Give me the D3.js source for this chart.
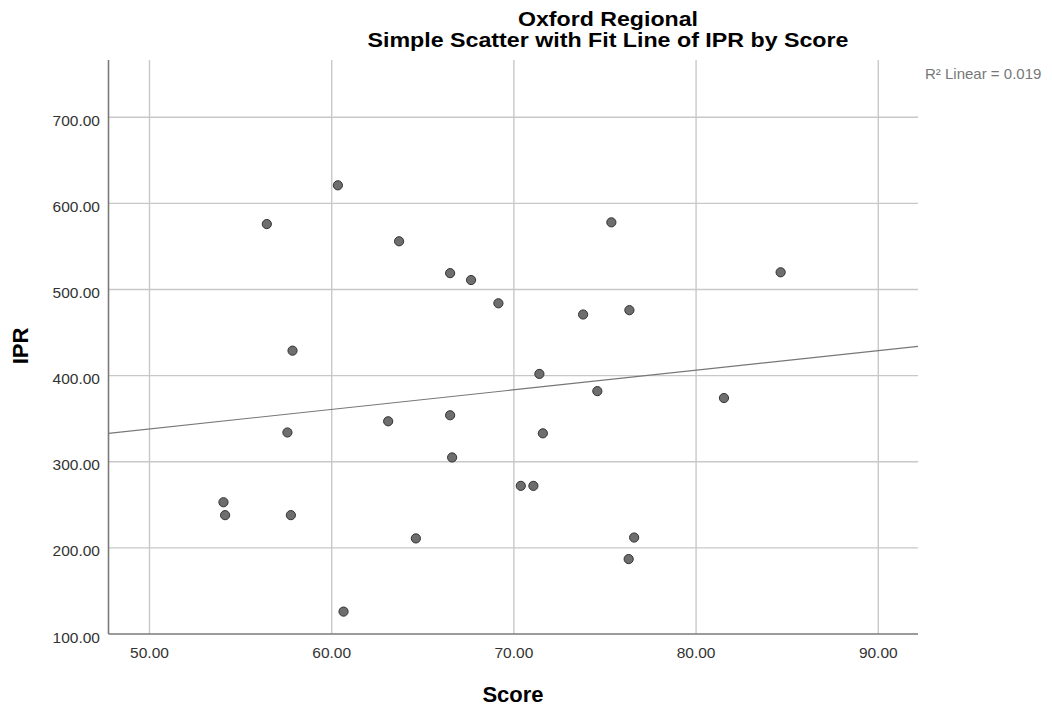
<!DOCTYPE html>
<html>
<head>
<meta charset="utf-8">
<script src="https://cdn.jsdelivr.net/npm/d3@7"></script>
<style>
  html, body { margin: 0; padding: 0; background: #fff; }
  svg { display: block; font-family: "Liberation Sans", Arial, sans-serif; }
</style>
</head>
<body>
<svg id="chart" width="1052" height="710"></svg>
<script>
const titleLines = ["Oxford Regional", "Simple Scatter with Fit Line of IPR by Score"];
const xLabel = "Score";
const yLabel = "IPR";
const fitLabel = "R\u00B2 Linear = 0.019";

const scoreValues = [60.34, 56.44, 63.70, 66.50, 67.65, 69.15, 57.85, 63.10, 66.50, 57.57,
                     66.61, 75.35, 84.64, 73.80, 76.34, 71.40, 74.58, 81.53, 71.59, 70.38,
                     71.07, 54.06, 54.15, 57.76, 64.62, 60.65, 76.60, 76.30];
const iprValues   = [621, 576, 556, 519, 511, 484, 429, 347, 354, 334,
                     305, 578, 520, 471, 476, 402, 382, 374, 333, 272,
                     272, 253, 238, 238, 211, 126, 212, 187];

const xTicks = [50, 60, 70, 80, 90];
const yTicks = [100, 200, 300, 400, 500, 600, 700];
const xDomain = [47.75, 92.18];
const yDomain = [100, 766.5];

const svg = d3.select("#chart");
const L = 108.5, R = 918, T = 60, B = 634;

const x = d3.scaleLinear().domain(xDomain).range([L, R]);
const y = d3.scaleLinear().domain(yDomain).range([B, T]);

// gridlines
svg.append("g").selectAll("line").data(yTicks.filter(d => d > 100)).join("line")
  .attr("x1", L).attr("x2", R).attr("y1", d => y(d)).attr("y2", d => y(d))
  .attr("stroke", "#c8c8c8").attr("stroke-width", 1.4);
svg.append("g").selectAll("line").data(xTicks).join("line")
  .attr("x1", d => x(d)).attr("x2", d => x(d)).attr("y1", T).attr("y2", B)
  .attr("stroke", "#c8c8c8").attr("stroke-width", 1.4);

// axes lines
svg.append("line").attr("x1", L).attr("x2", L).attr("y1", T).attr("y2", B)
  .attr("stroke", "#7a7a7a").attr("stroke-width", 1.6);
svg.append("line").attr("x1", L).attr("x2", R).attr("y1", B).attr("y2", B)
  .attr("stroke", "#7a7a7a").attr("stroke-width", 1.6);

// tick labels
svg.append("g").selectAll("text").data(yTicks).join("text")
  .attr("x", 100).attr("y", d => y(d) + 8.5).attr("text-anchor", "end")
  .attr("font-size", 15.5).attr("fill", "#333").text(d => d.toFixed(2));
svg.append("g").selectAll("text").data(xTicks).join("text")
  .attr("x", d => x(d)).attr("y", 658).attr("text-anchor", "middle")
  .attr("font-size", 15.5).attr("fill", "#333").text(d => d.toFixed(2));

// fit line (least squares from data)
const n = scoreValues.length;
const mx = d3.mean(scoreValues), my = d3.mean(iprValues);
let sxy = 0, sxx = 0;
for (let i = 0; i < n; i++) {
  sxy += (scoreValues[i] - mx) * (iprValues[i] - my);
  sxx += (scoreValues[i] - mx) ** 2;
}
const slope = sxy / sxx, intercept = my - slope * mx;
svg.append("line")
  .attr("x1", x(xDomain[0])).attr("y1", y(intercept + slope * xDomain[0]))
  .attr("x2", x(xDomain[1])).attr("y2", y(intercept + slope * xDomain[1]))
  .attr("stroke", "#777").attr("stroke-width", 1.1);

// points
svg.append("g").selectAll("circle").data(scoreValues.map((s, i) => [s, iprValues[i]])).join("circle")
  .attr("cx", d => x(d[0])).attr("cy", d => y(d[1])).attr("r", 4.6)
  .attr("fill", "#6e6e6e").attr("stroke", "#333").attr("stroke-width", 1);

// titles
const titleWidths = [180, 481];
svg.append("g").selectAll("text").data(titleLines).join("text")
  .attr("x", 608).attr("y", (d, i) => 25.5 + i * 21).attr("text-anchor", "middle")
  .attr("font-size", 19.5).attr("font-weight", "bold").attr("fill", "#000")
  .attr("textLength", (d, i) => titleWidths[i]).attr("lengthAdjust", "spacingAndGlyphs")
  .text(d => d);

svg.append("text").attr("x", 513).attr("y", 701.5).attr("text-anchor", "middle")
  .attr("font-size", 22).attr("font-weight", "bold").attr("fill", "#000").text(xLabel);
svg.append("text").attr("transform", "translate(28,346) rotate(-90)").attr("text-anchor", "middle")
  .attr("font-size", 22).attr("font-weight", "bold").attr("fill", "#000").text(yLabel);

svg.append("text").attr("x", 925).attr("y", 79).attr("font-size", 15)
  .attr("fill", "#777").text(fitLabel);
</script>
</body>
</html>
